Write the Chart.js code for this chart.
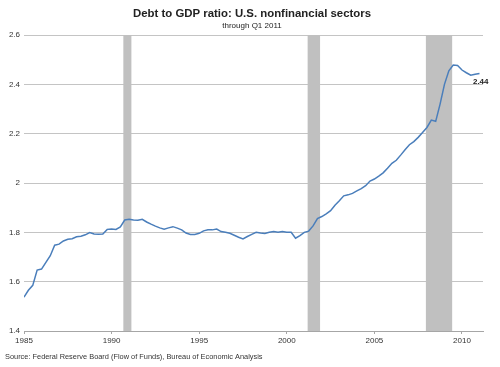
<!DOCTYPE html>
<html>
<head>
<meta charset="utf-8">
<script src="https://cdn.jsdelivr.net/npm/chart.js@4/dist/chart.umd.min.js"></script>
<style>
  html, body { margin: 0; padding: 0; background: #ffffff; }
  #wrap { width: 500px; height: 367px; }
</style>
</head>
<body>
<div id="wrap"><canvas id="debtChart" width="500" height="367"></canvas></div>
<script>
// Dados trimestrais: 1985 T1 até 2011 T1
const startYear = 1985;
const debtRatio = [
  1.537, 1.565, 1.585, 1.647,
  1.651, 1.678, 1.705, 1.748,
  1.752, 1.765, 1.772, 1.774,
  1.782, 1.784, 1.790, 1.799,
  1.793, 1.792, 1.793, 1.812,
  1.814, 1.812, 1.822, 1.850,
  1.853, 1.850, 1.849, 1.853,
  1.842, 1.833, 1.825, 1.818,
  1.813, 1.818, 1.823, 1.817,
  1.810, 1.797, 1.791, 1.791,
  1.796, 1.806, 1.810, 1.810,
  1.813, 1.803, 1.800, 1.796,
  1.788, 1.780, 1.773, 1.783,
  1.792, 1.800, 1.797, 1.795,
  1.800, 1.803, 1.800, 1.803,
  1.800, 1.800, 1.776, 1.787,
  1.800, 1.805, 1.826, 1.856,
  1.864, 1.875, 1.888, 1.910,
  1.928, 1.948, 1.952, 1.958,
  1.968, 1.977, 1.989, 2.008,
  2.016, 2.028, 2.041, 2.060,
  2.080, 2.092, 2.113, 2.135,
  2.155, 2.168, 2.185, 2.205,
  2.225, 2.255, 2.250, 2.320,
  2.400, 2.455, 2.478, 2.476,
  2.458, 2.447, 2.437, 2.441,
  2.444
];

// Recessões (início e fim em anos decimais)
const recessionStart = [1990.67, 2001.19, 2007.94];
const recessionEnd = [1991.13, 2001.90, 2009.44];

// Eixos
const xTickYears = [1985, 1990, 1995, 2000, 2005, 2010];
const yTickValues = [1.4, 1.6, 1.8, 2.0, 2.2, 2.4, 2.6];

const titleText = 'Debt to GDP ratio: U.S. nonfinancial sectors';
const subtitleText = 'through Q1 2011';
const sourceText = 'Source: Federal Reserve Board (Flow of Funds), Bureau of Economic Analysis';
const lastLabel = '2.44';

const points = debtRatio.map((v, i) => ({ x: startYear + i / 4, y: v }));

// Plugin para as faixas de recessão e textos
const recessionPlugin = {
  id: 'recessions',
  beforeDatasetsDraw(chart) {
    const { ctx, chartArea, scales } = chart;
    ctx.save();
    ctx.fillStyle = '#c0c0c0';
    for (let i = 0; i < recessionStart.length; i++) {
      const x1 = scales.x.getPixelForValue(recessionStart[i]);
      const x2 = scales.x.getPixelForValue(recessionEnd[i]);
      ctx.fillRect(x1, chartArea.top, x2 - x1, chartArea.bottom - chartArea.top);
    }
    ctx.restore();
  },
  afterDraw(chart) {
    const { ctx, scales } = chart;
    ctx.save();
    ctx.fillStyle = '#222';
    ctx.textAlign = 'center';
    ctx.textBaseline = 'alphabetic';
    ctx.font = 'bold 11.4px "Liberation Sans", Arial, sans-serif';
    ctx.fillText(titleText, 252, 17);
    ctx.font = '8px "Liberation Sans", Arial, sans-serif';
    ctx.fillText(subtitleText, 252, 28);

    ctx.textAlign = 'left';
    ctx.fillStyle = '#333';
    ctx.font = '7.4px "Liberation Sans", Arial, sans-serif';
    ctx.fillText(sourceText, 5, 359);

    // rótulo do último valor
    const last = points[points.length - 1];
    const px = scales.x.getPixelForValue(last.x);
    const py = scales.y.getPixelForValue(last.y);
    ctx.fillStyle = '#222';
    ctx.font = 'bold 8px "Liberation Sans", Arial, sans-serif';
    ctx.textAlign = 'right';
    ctx.fillText(lastLabel, px + 9, py + 11);
    ctx.restore();
  }
};

new Chart(document.getElementById('debtChart'), {
  type: 'line',
  data: {
    datasets: [{
      label: 'Debt to GDP',
      data: points,
      borderColor: '#4a7ebb',
      borderWidth: 1.5,
      pointRadius: 0,
      tension: 0,
      fill: false
    }]
  },
  options: {
    responsive: false,
    animation: false,
    layout: { padding: { top: 35, right: 17, left: 0, bottom: 0 } },
    plugins: {
      legend: { display: false },
      tooltip: { enabled: false }
    },
    scales: {
      x: {
        type: 'linear',
        min: 1985,
        max: 2011.2,
        afterBuildTicks(scale) {
          scale.ticks = xTickYears.map(v => ({ value: v }));
        },
        afterFit(scale) {
          scale.height = 36;
        },
        grid: {
          drawOnChartArea: false,
          drawTicks: true,
          tickLength: 3,
          color: '#a6a6a6'
        },
        border: { display: true, color: '#a6a6a6', width: 1 },
        ticks: {
          color: '#333',
          padding: 2,
          maxRotation: 0,
          font: { family: '"Liberation Sans", Arial, sans-serif', size: 8 },
          callback: v => String(v)
        }
      },
      y: {
        min: 1.4,
        max: 2.6,
        afterBuildTicks(scale) {
          scale.ticks = yTickValues.map(v => ({ value: v }));
        },
        afterFit(scale) {
          scale.width = 24;
        },
        grid: {
          drawTicks: false,
          color: '#c4c4c4'
        },
        border: { display: false },
        ticks: {
          color: '#333',
          padding: 4,
          font: { family: '"Liberation Sans", Arial, sans-serif', size: 8 },
          callback: v => String(Number(v.toFixed(1)))
        }
      }
    }
  },
  plugins: [recessionPlugin]
});
</script>
</body>
</html>
